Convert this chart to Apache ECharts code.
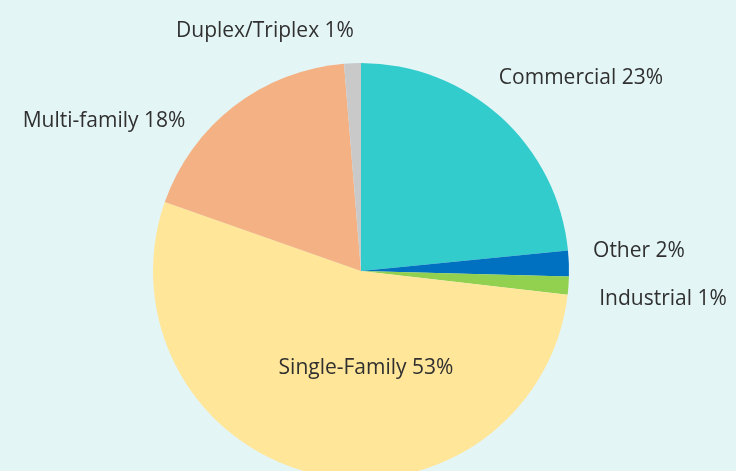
<!DOCTYPE html>
<html>
<head>
<meta charset="utf-8">
<script src="https://cdn.jsdelivr.net/npm/echarts@6/dist/echarts.min.js"></script>
<style>
  html, body { margin: 0; padding: 0; background: #e4f5f5; }
  #chart { width: 736px; height: 471px; }
</style>
</head>
<body>
<div id="chart"></div>
<script>
// slice data, clockwise from 12 o'clock
const categories = ['Commercial', 'Other', 'Industrial', 'Single-Family', 'Multi-family', 'Duplex/Triplex']
const shares = [23.4, 2.0, 1.4, 53.5, 18.3, 1.3]
const shownPct = [23, 2, 1, 53, 18, 1]
const colors = ['#33cccc', '#0070c0', '#92d050', '#ffe699', '#f4b183', '#c9c9c9']

// where each label text sits (centre of text)
const labelSpots = [[581, 78], [639, 251], [663, 299], [366, 368], [104, 121], [265, 31]]

const chart = echarts.init(document.getElementById('chart'))

chart.setOption({
  backgroundColor: '#e4f5f5',
  animation: false,
  series: [
    {
      type: 'pie',
      center: [361, 271],
      radius: 208,
      startAngle: 90,
      clockwise: true,
      avoidLabelOverlap: false,
      itemStyle: { borderWidth: 0 },
      label: {
        show: true,
        color: '#303030',
        fontFamily: 'Open Sans',
        fontSize: 21,
        formatter: p => p.name + ' ' + shownPct[p.dataIndex] + '%'
      },
      labelLine: { show: false },
      labelLayout: params => {
        const s = labelSpots[params.dataIndex]
        return { x: s[0], y: s[1], align: 'center', verticalAlign: 'middle' }
      },
      data: categories.map((c, i) => ({
        name: c,
        value: shares[i],
        itemStyle: { color: colors[i] }
      }))
    }
  ]
})
</script>
</body>
</html>
